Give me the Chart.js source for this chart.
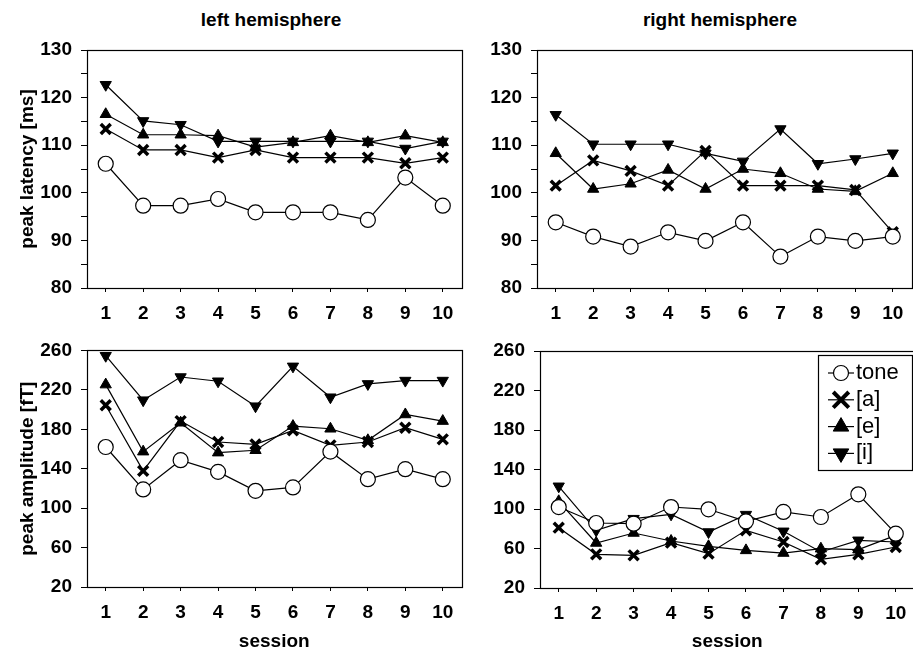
<!DOCTYPE html>
<html>
<head>
<meta charset="utf-8">
<script src="https://cdn.jsdelivr.net/npm/chart.js@4.4.1/dist/chart.umd.min.js"></script>
<style>
    body { margin: 0; width: 913px; height: 654px; overflow: hidden; background: #fff; position: relative; }
    canvas { position: absolute; }
    .head { position: absolute; top: 9px; line-height: 22px; font: bold 19px 'Liberation Sans', Arial, sans-serif; transform: translateX(-50%); white-space: nowrap; }
</style>
</head>
<body>
<div class="head" style="left:271px">left hemisphere</div>
<div class="head" style="left:720px">right hemisphere</div>
<canvas id="latLeft" width="472" height="330" style="left:0;top:0"></canvas>
<canvas id="latRight" width="472" height="330" style="left:450px;top:0"></canvas>
<canvas id="ampLeft" width="472" height="324" style="left:0;top:330px"></canvas>
<canvas id="ampRight" width="472" height="324" style="left:453px;top:330px"></canvas>
<script>
// sessions 1..10
const sessions = ['1', '2', '3', '4', '5', '6', '7', '8', '9', '10'];
const seriesNames = ['tone', '[a]', '[e]', '[i]'];

// peak latency [ms], left hemisphere
const latLeftTone = [106.1, 97.3, 97.3, 98.7, 95.9, 95.9, 95.9, 94.3, 103.2, 97.3];
const latLeftA = [113.4, 109.0, 109.0, 107.4, 109.0, 107.4, 107.4, 107.4, 106.2, 107.4];
const latLeftE = [116.5, 112.2, 112.2, 112.0, 109.6, 110.6, 112.0, 110.6, 112.0, 110.6];
const latLeftI = [122.7, 115.1, 114.3, 110.8, 110.8, 110.8, 110.8, 110.8, 109.3, 110.8];

// peak latency [ms], right hemisphere
const latRightTone = [93.8, 90.8, 88.7, 91.7, 89.9, 93.8, 86.6, 90.8, 89.9, 90.8];
const latRightA = [101.5, 106.8, 104.6, 101.5, 108.8, 101.5, 101.5, 101.5, 100.6, 91.7];
const latRightE = [108.3, 100.8, 101.9, 104.8, 100.8, 105.0, 104.1, 100.8, 100.3, 104.1];
const latRightI = [116.4, 110.2, 110.2, 110.2, 108.3, 106.6, 113.4, 106.1, 107.1, 108.3];

// peak amplitude [fT], left hemisphere
const ampLeftTone = [162, 119, 148.6, 136.8, 117.6, 121, 157.3, 129.4, 139.5, 129.4];
const ampLeftA = [204.4, 137.8, 188.3, 167.1, 164.7, 178.9, 163.7, 167.1, 181.6, 169.8];
const ampLeftE = [225.3, 157.3, 186.6, 156.3, 158.7, 183.2, 180.5, 168.8, 195, 188.3];
const ampLeftI = [254.6, 209.5, 233, 228.7, 203.4, 243.8, 212.5, 226, 229.4, 229.4];

// peak amplitude [fT], right hemisphere
const ampRightTone = [102, 85.8, 85.1, 102, 99.7, 87.5, 97, 91.9, 114.9, 75];
const ampRightA = [81.1, 54.1, 53.1, 65.9, 54.8, 78.4, 66.6, 49, 54.1, 61.5];
const ampRightE = [107.8, 65.6, 75.7, 67.6, 62.2, 58.1, 55.4, 59.8, 58.8, 73.3];
const ampRightI = [123, 78.4, 90.2, 94.6, 76.7, 94.3, 77.4, 56.5, 68.3, 66.6];

const FONT = "'Liberation Sans', Arial, sans-serif";

// marker for each series
const markers = [
    { pointStyle: 'circle', pointRadius: 7.5, pointBackgroundColor: '#fff', pointBorderWidth: 1.2, pointRotation: 0 },
    { pointStyle: 'crossRot', pointRadius: 7, pointBackgroundColor: '#000', pointBorderWidth: 3.5, pointRotation: 0 },
    { pointStyle: 'triangle', pointRadius: 6.5, pointBackgroundColor: '#000', pointBorderWidth: 1, pointRotation: 0 },
    { pointStyle: 'triangle', pointRadius: 6.5, pointBackgroundColor: '#000', pointBorderWidth: 1, pointRotation: 180 }
];
// legend symbols are drawn a bit larger
const legendRadius = [7.5, 11, 9, 9];
const legendStroke = [1.2, 4, 1, 1];

function makeDatasets(tone, a, e, i) {
    return [tone, a, e, i].map((values, k) => Object.assign({
        label: seriesNames[k],
        data: values,
        borderColor: '#000',
        borderWidth: 1.2,
        pointBorderColor: '#000',
        pointHoverRadius: markers[k].pointRadius,
        tension: 0,
        clip: false
    }, markers[k]));
}

// box around the plot area
const frame = {
    id: 'frame',
    beforeDatasetsDraw(chart) {
        const { ctx, chartArea: a } = chart;
        ctx.save();
        ctx.strokeStyle = '#000';
        ctx.lineWidth = 1.2;
        ctx.strokeRect(Math.round(a.left) + 0.5, Math.round(a.top) + 0.5, Math.round(a.right - a.left), Math.round(a.bottom - a.top));
        ctx.restore();
    }
};

// legend in a box, line + marker + text
const boxLegend = {
    id: 'boxLegend',
    afterDraw(chart) {
        const ctx = chart.ctx;
        const x = 365, y = 25, w = 94, h = 115;
        ctx.save();
        ctx.fillStyle = '#fff';
        ctx.fillRect(x, y, w, h);
        ctx.strokeStyle = '#000';
        ctx.lineWidth = 1.2;
        ctx.strokeRect(x + 0.5, y + 0.5, w, h);
        ctx.font = '22px ' + FONT;
        ctx.textBaseline = 'middle';
        chart.data.datasets.forEach((ds, k) => {
            const cy = y + 18 + k * 26.8;
            ctx.strokeStyle = '#000';
            ctx.lineWidth = 1.2;
            ctx.beginPath();
            ctx.moveTo(x + 10, cy);
            ctx.lineTo(x + 36, cy);
            ctx.stroke();
            ctx.fillStyle = ds.pointBackgroundColor;
            ctx.lineWidth = legendStroke[k];
            Chart.helpers.drawPoint(ctx, {
                pointStyle: ds.pointStyle,
                radius: legendRadius[k],
                rotation: ds.pointRotation,
                borderWidth: legendStroke[k]
            }, x + 23, cy);
            ctx.fillStyle = '#000';
            ctx.fillText(ds.label, x + 38, cy);
        });
        ctx.restore();
    }
};

function drawPanel(id, datasets, opts) {
    const tickFont = { family: FONT, size: 19, weight: 'bold' };
    const config = {
        type: 'line',
        data: { labels: sessions, datasets: datasets },
        options: {
            responsive: false,
            animation: false,
            layout: { padding: { top: opts.padTop, right: opts.padRight, bottom: 0, left: 0 } },
            plugins: { legend: { display: false }, tooltip: { enabled: false } },
            scales: {
                x: {
                    type: 'category',
                    offset: true,
                    grid: { drawOnChartArea: false, drawTicks: true, tickLength: 4, offset: false, color: '#000' },
                    border: { display: false },
                    ticks: { font: tickFont, color: '#000', padding: 10, maxRotation: 0, autoSkip: false },
                    title: {
                        display: !!opts.xTitle,
                        text: opts.xTitle || '',
                        font: tickFont,
                        color: '#000',
                        padding: { top: 0, bottom: 1 }
                    },
                    afterFit(scale) { scale.height = opts.xHeight; }
                },
                y: {
                    min: opts.min,
                    max: opts.max,
                    grid: { drawOnChartArea: false, drawTicks: true, tickLength: 6, color: '#000' },
                    border: { display: false },
                    ticks: {
                        stepSize: opts.step,
                        autoSkip: false,
                        font: tickFont,
                        color: '#000',
                        padding: 9,
                        // minor ticks get no label
                        callback: (v) => ((v - opts.min) % opts.major === 0 ? v : '')
                    },
                    title: {
                        display: !!opts.yTitle,
                        text: opts.yTitle || '',
                        font: tickFont,
                        color: '#000',
                        padding: { top: 16, bottom: 0 }
                    },
                    afterFit(scale) { scale.width = 87; }
                }
            }
        },
        plugins: opts.legend ? [frame, boxLegend] : [frame]
    };
    return new Chart(document.getElementById(id), config);
}

drawPanel('latLeft', makeDatasets(latLeftTone, latLeftA, latLeftE, latLeftI),
    { min: 80, max: 130, step: 5, major: 10, yTitle: 'peak latency [ms]', padTop: 50, padRight: 5, xHeight: 42 });
drawPanel('latRight', makeDatasets(latRightTone, latRightA, latRightE, latRightI),
    { min: 80, max: 130, step: 5, major: 10, padTop: 50, padRight: 2, xHeight: 42 });
drawPanel('ampLeft', makeDatasets(ampLeftTone, ampLeftA, ampLeftE, ampLeftI),
    { min: 20, max: 260, step: 40, major: 40, yTitle: 'peak amplitude [fT]', xTitle: 'session', padTop: 19, padRight: 5, xHeight: 67 });
drawPanel('ampRight', makeDatasets(ampRightTone, ampRightA, ampRightE, ampRightI),
    { min: 20, max: 260, step: 40, major: 40, xTitle: 'session', padTop: 21, padRight: 2, xHeight: 66, legend: true });
</script>
</body>
</html>
